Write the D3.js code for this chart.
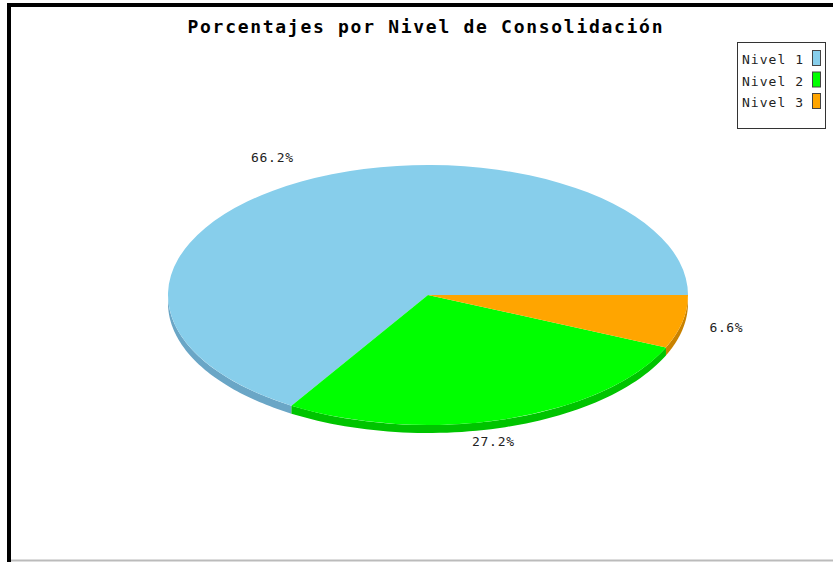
<!DOCTYPE html>
<html><head><meta charset="utf-8">
<script src="https://cdn.jsdelivr.net/npm/d3@7"></script>
<style>body{margin:0;background:#fff}svg{display:block}</style>
</head><body>
<svg id="c" width="833" height="562"></svg>
<script>
const title = "Porcentajes por Nivel de Consolidación";
const categories = ["Nivel 1", "Nivel 2", "Nivel 3"];
const values = [66.2, 27.2, 6.6];
const labels = ["66.2%", "27.2%", "6.6%"];
const colors = ["#87CEEB", "#00FF00", "#FFA500"];
const sideColors = ["#6aa6c6", "#00c400", "#c98200"];

const svg = d3.select("#c");
const W = 833, H = 562;
svg.append("rect").attr("x",0).attr("y",0).attr("width",W).attr("height",H).attr("fill","#fff");
svg.append("line").attr("x1",7).attr("x2",W).attr("y1",5).attr("y2",5).attr("stroke","#000").attr("stroke-width",4);
svg.append("line").attr("x1",9).attr("x2",9).attr("y1",3).attr("y2",H).attr("stroke","#000").attr("stroke-width",4);
svg.append("line").attr("x1",11).attr("x2",W).attr("y1",560.5).attr("y2",560.5).attr("stroke","#bbb").attr("stroke-width",2);

const mono = "'DejaVu Sans Mono', 'Liberation Mono', monospace";
svg.append("text").attr("x",425).attr("y",33).attr("text-anchor","middle")
  .attr("font-family",mono).attr("font-size",18).attr("font-weight","bold")
  .attr("textLength",475).attr("lengthAdjust","spacing")
  .text(title);

const cx = 428, cy = 295, rx = 260, ry = 130, depth = 8;
const pie = d3.pie().sort(null).value(d=>d).startAngle(Math.PI/2).endAngle(Math.PI/2 - 2*Math.PI);
const arcs = pie(values);
const th = a => Math.PI/2 - a;
const px = t => cx + rx*Math.cos(t);
const py = t => cy - ry*Math.sin(t);

const sideG = svg.append("g");
arcs.forEach((d,i)=>{
  let t1 = th(d.startAngle), t2 = th(d.endAngle);
  let lo = Math.min(t1,t2), hi = Math.max(t1,t2);
  const a = Math.max(lo, Math.PI), b = Math.min(hi, 2*Math.PI);
  if (b <= a) return;
  const n = 60;
  const p = d3.path();
  for (let k=0;k<=n;k++){
    const t = a + (b-a)*k/n;
    if(k===0) p.moveTo(px(t), py(t)); else p.lineTo(px(t), py(t));
  }
  for (let k=n;k>=0;k--){
    const t = a + (b-a)*k/n;
    p.lineTo(px(t), py(t)+depth);
  }
  p.closePath();
  sideG.append("path").attr("d",p.toString()).attr("fill",sideColors[i]);
});

const arc = d3.arc().innerRadius(0).outerRadius(rx);
svg.append("g").attr("transform",`translate(${cx},${cy}) scale(1,${ry/rx})`)
  .selectAll("path").data(arcs).join("path")
  .attr("d",arc).attr("fill",(d,i)=>colors[i]);

const labelPos = [[272,162],[493,446],[726,332]];
const labelW = [42, 42, 33];
svg.append("g").selectAll("text").data(labels).join("text")
  .attr("x",(d,i)=>labelPos[i][0]).attr("y",(d,i)=>labelPos[i][1])
  .attr("text-anchor","middle").attr("font-family",mono).attr("font-size",13)
  .attr("textLength",(d,i)=>labelW[i]).attr("lengthAdjust","spacing")
  .attr("fill","#222").text(d=>d);

const lg = svg.append("g");
lg.append("rect").attr("x",737.5).attr("y",42.5).attr("width",88).attr("height",86)
  .attr("fill","#fff").attr("stroke","#333").attr("stroke-width",1);
categories.forEach((c,i)=>{
  const y = 59 + i*21.5;
  lg.append("text").attr("x",742).attr("y",y+5).attr("font-family",mono).attr("font-size",13)
    .attr("textLength",61).attr("lengthAdjust","spacing")
    .attr("fill","#222").text(c);
  lg.append("rect").attr("x",812.5).attr("y",y-8.5).attr("width",8).attr("height",15)
    .attr("fill",colors[i]).attr("stroke","#444").attr("stroke-width",1);
});
</script>
</body></html>
